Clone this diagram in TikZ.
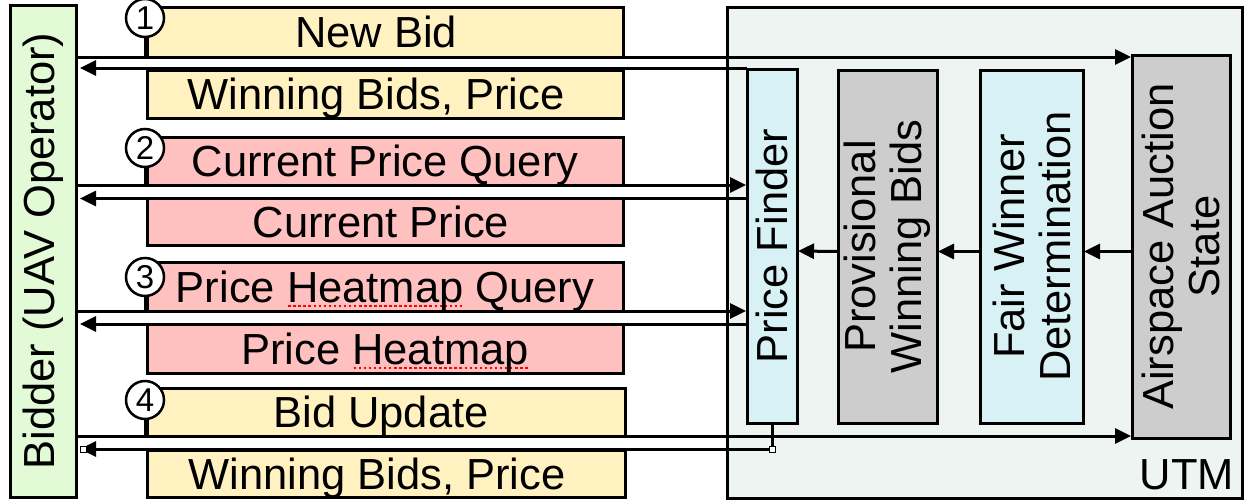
\documentclass[tikz,border=0pt]{standalone}
\usepackage{fontspec}
\setmainfont{Liberation Sans}
\usetikzlibrary{arrows.meta}

\definecolor{ylw}{HTML}{FFF2C0}
\definecolor{pnk}{HTML}{FFC0C0}
\definecolor{lblue}{HTML}{D8F1F4}
\definecolor{gry}{HTML}{CDCDCD}
\definecolor{grn}{HTML}{E2FAD5}
\definecolor{utmbg}{HTML}{EEF4F1}

% red dotted spell-check mark under a word
\newcommand\spellmark[1]{\setbox0\hbox{#1}\rlap{\color{red}\raisebox{-5pt}{\hbox to \wd0{\xleaders\hbox to 5pt{\hss\rule{2.6pt}{1.6pt}\hss}\hfil}}}\box0\relax}

\begin{document}
\begin{tikzpicture}[x=1pt, y=-1pt,
  font=\fontsize{43.5}{46}\selectfont,
  frame/.style={draw, line width=3pt, inner sep=0pt, outer sep=0pt},
  box/.style={frame, text height=31pt, text depth=0pt},
  ybox/.style={box, fill=ylw},
  pbox/.style={box, fill=pnk},
  arr/.style={line width=3pt, -{Triangle[length=16pt,width=15pt]}},
  plain/.style={line width=3pt},
  num/.style={circle, draw, line width=2.5pt, fill=white, minimum size=38pt,
              inner sep=0pt, font=\fontsize{33}{33}\selectfont},
  vtext/.style={rotate=90, align=center},
  tap/.style={draw, line width=0.8pt, fill=white, minimum size=6pt, inner sep=0pt}]
\useasboundingbox (0,0) rectangle (1244,501);

% UTM container and its components
\node[frame, fill=utmbg, minimum width=515pt, minimum height=491pt] (utm) at (984.5,252.5) {};
\node[anchor=south east, inner sep=0pt] (utmlabel) at ([xshift=-8pt,yshift=8pt]utm.south east) {UTM};

\node[frame, fill=lblue, minimum width=50pt, minimum height=354pt] (pf) at (772,246) {};
\node[vtext] (pft) at (pf.center) {Price Finder};
\node[frame, fill=gry, minimum width=99pt, minimum height=353pt] (pwb) at (887.5,246.5) {};
\node[vtext] (pwbt) at (pwb.center) {Provisional\\Winning Bids};
\node[frame, fill=lblue, minimum width=103pt, minimum height=353pt] (fwd) at (1031.5,246.5) {};
\node[vtext] (fwdt) at (fwd.center) {Fair Winner\\Determination};
\node[frame, fill=gry, minimum width=98pt, minimum height=383pt] (aas) at (1181,246.5) {};
\node[vtext] (aast) at (aas.center) {Airspace Auction\\State};

% bidder
\node[frame, fill=grn, minimum width=66pt, minimum height=492pt] (bidder) at (43,251) {};
\node[vtext] (biddert) at (bidder.center) {Bidder (UAV Operator)};

% message boxes
\node[ybox, minimum width=476pt, minimum height=50pt] (nb)  at (385,32)    {\hspace*{-18pt}New Bid};
\node[ybox, minimum width=476pt, minimum height=48pt] (wb1) at (385,94)    {\hspace*{-18pt}Winning Bids, Price};
\node[pbox, minimum width=476pt, minimum height=48pt] (cpq) at (385,161)   {Current Price Query};
\node[pbox, minimum width=476pt, minimum height=47pt] (cp)  at (385,222)   {\hspace*{-8pt}Current Price};
\node[pbox, minimum width=476pt, minimum height=49pt] (phq) at (385,286.5) {Price \spellmark{Heatmap} Query};
\node[pbox, minimum width=476pt, minimum height=49pt] (ph)  at (385,348.5) {Price \spellmark{Heatmap}};
\node[ybox, minimum width=478pt, minimum height=48pt] (bu)  at (386,412)   {\hspace*{-10pt}Bid Update};
\node[ybox, minimum width=478pt, minimum height=47pt] (wb2) at (386,473.5) {\hspace*{-18pt}Winning Bids, Price};

% step numbers
\node[num] (c1) at (145,18)  {1};
\node[num] (c2) at (145,148) {2};
\node[num] (c3) at (145,277) {3};
\node[num] (c4) at (145,400) {4};
\draw[line width=2.5pt] (c1.south) -- (c1.south |- nb.south);
\draw[line width=2.5pt] (c2.south) -- (c2.south |- cpq.south);
\draw[line width=2.5pt] (c3.south) -- (c3.south |- phq.south);
\draw[line width=2.5pt] (c4.south) -- (c4.south |- bu.south);

% step 1: new bid
\draw[arr, shorten >=1pt] (bidder.east |- nb.south) -- (aas.west |- nb.south);
\draw[arr, shorten >=4pt] ([yshift=1pt]pf.north west) -- ([yshift=1pt]bidder.east |- pf.north west);
% step 2: current price
\draw[arr, shorten >=1pt] (bidder.east |- cpq.south) -- (pf.west |- cpq.south);
\draw[arr, shorten >=4pt] (pf.west |- cp.north) -- (bidder.east |- cp.north);
% step 3: price heatmap
\draw[arr, shorten >=1pt] (bidder.east |- phq.south) -- (pf.west |- phq.south);
\draw[arr, shorten >=4pt] (pf.west |- ph.north) -- (bidder.east |- ph.north);
% step 4: bid update
\draw[arr, shorten >=1pt] (bidder.east |- bu.south) -- (aas.west |- bu.south);
\coordinate (turn) at ([yshift=1pt]pf.south |- wb2.north);
\draw[plain] (pf.south) -- (turn);
\draw[arr, shorten >=4pt] (turn) -- (bidder.east |- turn);
\node[tap] (tapR) at (turn) {};
\node[tap] (tapL) at ([xshift=7pt]bidder.east |- turn) {};

% internal pipeline
\draw[arr, shorten >=1pt] ([yshift=-5pt]aas.west) -- ([yshift=-5pt]fwd.east);
\draw[arr, shorten >=1pt] ([yshift=-5pt]fwd.west) -- ([yshift=-5pt]pwb.east);
\draw[arr, shorten >=1pt] ([yshift=-5pt]pwb.west) -- ([yshift=-5pt]pf.east);
\end{tikzpicture}
\end{document}
